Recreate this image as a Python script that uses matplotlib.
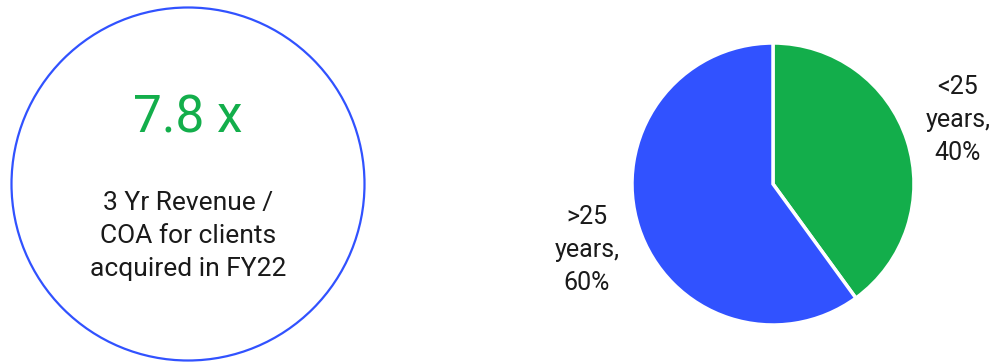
import matplotlib
matplotlib.use("Agg")
import matplotlib.pyplot as plt
from matplotlib.patches import Circle

plt.rcParams['font.family'] = ['Roboto', 'DejaVu Sans']

# Data
kpi_value = "7.8 x"
kpi_caption = "3 Yr Revenue /\nCOA for clients\nacquired in FY22"
categories = ["<25 years", ">25 years"]
shares = [40, 60]
slice_labels = ["<25\nyears,\n40%", ">25\nyears,\n60%"]

BLUE = "#3152FF"
GREEN = "#13AE4B"
TEXT = "#1a1a1a"

W, H = 995, 364
fig = plt.figure(figsize=(W / 100, H / 100), dpi=100)
ax = fig.add_axes([0, 0, 1, 1])

# KPI circle
ax.add_patch(Circle((188, 180), 176.5, fill=False, edgecolor=BLUE, linewidth=1.6))
ax.text(188, 364 - 119, kpi_value, color=GREEN, fontsize=37, ha="center", va="center")
ax.text(188, 364 - 236, kpi_caption, color=TEXT, fontsize=19, ha="center", va="center",
        linespacing=1.45)

# Pie
ax.pie(shares, colors=[GREEN, BLUE], startangle=90, counterclock=False,
       center=(773, 180), radius=141, frame=True,
       wedgeprops=dict(edgecolor="white", linewidth=2.5))
ax.set_xlim(0, W)
ax.set_ylim(0, H)
ax.axis("off")

ax.text(958, 364 - 120, slice_labels[0], color=TEXT, fontsize=18, ha="center", va="center",
        linespacing=1.48)
ax.text(587, 364 - 250, slice_labels[1], color=TEXT, fontsize=18, ha="center", va="center",
        linespacing=1.48)

fig.savefig("out.png", dpi=100)
